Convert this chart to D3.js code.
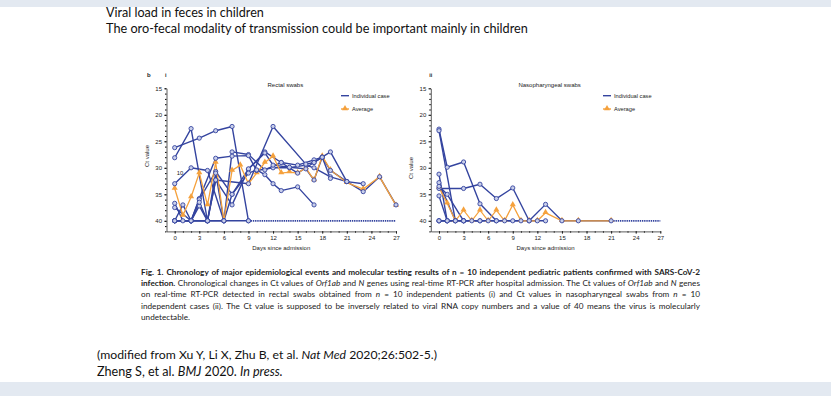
<!DOCTYPE html>
<html lang="en">
<head>
<meta charset="UTF-8" />
<title>Viral load in feces in children</title>
<style>
  body { margin: 0; background: #fff; }
  svg { display: block; }
</style>
</head>
<body>
<script src="https://d3js.org/d3.v7.min.js"></script>
<script>
// rectal swabs: each case is [day, Ct value]
const rectalCase1 = [[0, 26.2], [3, 24.4], [5, 23], [7, 22.2], [9, 40]];
const rectalCase2 = [[0, 28.1], [2, 22.6], [4, 40], [5, 32.3], [7, 37], [9, 30.3], [11, 27], [13, 29], [15, 29.5], [17, 28.5], [18, 28], [19, 27], [21, 32.6], [23, 34.5], [25, 31.7], [27, 37]];
const rectalCase3 = [[0, 33], [2, 30], [4, 30.5], [6, 40], [7, 27], [9, 27.5], [11, 30.4], [13, 29], [15, 31], [17, 29], [18, 28]];
const rectalCase4 = [[0, 36.7], [1, 40], [2, 40], [3, 35.8], [5, 28.2], [7, 27.8], [9, 27.7], [10, 30.5], [12, 30], [14, 30], [16, 29.5], [17, 30], [19, 31.7], [21, 32.6], [23, 33]];
const rectalCase5 = [[0, 40], [2, 40], [3, 36], [5, 30.7], [7, 35], [9, 30.2], [11, 27.2], [12, 29.5], [14, 29.9], [16, 30.2], [17, 32.3], [18, 28], [19, 32]];
const rectalCase6 = [[0, 37.5], [2, 40], [4, 40], [5, 32.3], [9, 33], [12, 22.2], [16, 29.3], [17, 29], [18, 28], [19, 30.5], [21, 32.6]];
const rectalCase7 = [[0, 40], [2, 40], [3, 37.2], [4, 40], [5, 31], [6, 40]];
const rectalCase8 = [[0, 40], [2, 40], [4, 40], [6, 40], [7, 35], [9, 31], [10, 30.4], [11, 31.3], [12, 33], [13, 34.3], [15, 33.6], [17, 37]];
const rectalCase9 = [[0, 40], [1, 37], [2, 40], [3, 36.5], [4, 40]];
const rectalCase10 = [[0, 40], [2, 40], [4, 40], [6, 40], [9, 40]];
const rectalAverage = [[0, 33.9], [1, 39], [2, 35.5], [3, 31], [4, 37], [5, 29], [6, 40], [7, 30.5], [8, 29.5], [9, 33], [10, 31], [11, 29], [12, 27.8], [13, 31], [14, 30.8], [15, 31], [16, 30], [17, 32.3], [18, 27.8], [19, 30.4], [21, 32.8], [23, 34], [25, 31.7], [27, 37.1]];
const rectalNegative = [[9, 40], [27, 40]];

// nasopharyngeal swabs
const nasalCase1 = [[0, 22.7], [1, 29.9], [3, 28.9], [5, 36.8], [7, 40]];
const nasalCase2 = [[0, 23], [2, 40]];
const nasalCase3 = [[0, 33.9], [3, 33.9], [5, 33.1], [7, 35.8], [9, 33.8], [11, 40], [13, 36.9], [15, 40], [17, 40], [21, 40]];
const nasalCase4 = [[0, 31.2], [1, 40]];
const nasalCase5 = [[0, 32.8], [2, 40], [3, 40]];
const nasalCase6 = [[0, 35.3], [1, 40]];
const nasalCase7 = [[0, 33.5], [1, 35], [3, 40], [4, 40], [5, 40]];
const nasalCase8 = [[0, 40], [1, 40], [3, 40], [5, 40], [7, 40], [9, 40], [10, 40]];
const nasalCase9 = [[0, 40], [3, 40], [6, 40], [8, 40], [11, 40], [12, 40], [13, 40]];
const nasalCase10 = [[0, 40], [1, 40], [2, 40]];
const nasalAverage = [[0, 33.7], [1, 36.7], [2, 40], [3, 38], [4, 40], [5, 38], [6, 40], [7, 38], [8, 40], [9, 37], [10, 40], [11, 40], [12, 40], [13, 38.5], [15, 40], [17, 40], [21, 40]];
const nasalNegative = [[21, 40], [27, 40]];

const rectalCases = [rectalCase1, rectalCase2, rectalCase3, rectalCase4, rectalCase5, rectalCase6, rectalCase7, rectalCase8, rectalCase9, rectalCase10];
const nasalCases = [nasalCase1, nasalCase2, nasalCase3, nasalCase4, nasalCase5, nasalCase6, nasalCase7, nasalCase8, nasalCase9, nasalCase10];

const yTicks = [15, 20, 25, 30, 35, 40];
const xTicks = [0, 3, 6, 9, 12, 15, 18, 21, 24, 27];

const blue = "#34449f";
const orange = "#f5a13c";
const chartFont = "'Liberation Sans', Arial, sans-serif";
const slideFont = "Lato, 'Open Sans', sans-serif";

const svg = d3.select("body").append("svg")
  .attr("width", 831).attr("height", 396);

// slide bands
svg.append("rect").attr("x", 0).attr("y", 0).attr("width", 831).attr("height", 7).attr("fill", "#e3e9f1");
svg.append("rect").attr("x", 0).attr("y", 382).attr("width", 831).attr("height", 14).attr("fill", "#e3e9f1");

// size a slide text so that it spans a given width
function fitText(sel, size, width) {
  sel.attr("font-size", size);
  const w = sel.node().getComputedTextLength();
  sel.attr("font-size", size * width / w);
}

fitText(svg.append("text").attr("x", 106).attr("y", 17)
  .attr("font-family", slideFont).attr("fill", "#111")
  .text("Viral load in feces in children"), 13.5, 158);
fitText(svg.append("text").attr("x", 106).attr("y", 33)
  .attr("font-family", slideFont).attr("fill", "#111")
  .text("The oro-fecal modality of transmission could be important mainly in children"), 13.5, 422);

function panel(opts) {
  const x = d3.scaleLinear().domain([-1, 27]).range([opts.left, opts.left + 229.5]);
  const y = d3.scaleLinear().domain([15, 42]).range([88.3, 231.4]);
  const g = svg.append("g").attr("font-family", chartFont);

  // axes
  const yAxis = g.append("g").attr("transform", `translate(${opts.left},0)`)
    .call(d3.axisLeft(y).tickValues(yTicks).tickSize(2.5).tickSizeOuter(0).tickPadding(2));
  g.append("g").attr("transform", `translate(${opts.left},0)`)
    .call(d3.axisLeft(y).tickValues(d3.range(15, 43)).tickSize(1.5).tickSizeOuter(0).tickFormat(""))
    .call(a => a.select(".domain").remove());
  const xAxis = g.append("g").attr("transform", "translate(0,231.4)")
    .call(d3.axisBottom(x).tickValues(xTicks).tickSize(2.5).tickSizeOuter(0).tickPadding(2));
  g.append("g").attr("transform", "translate(0,231.4)")
    .call(d3.axisBottom(x).tickValues(d3.range(0, 28)).tickSize(1.2).tickSizeOuter(0).tickFormat(""))
    .call(a => a.select(".domain").remove());
  [yAxis, xAxis].forEach(a => {
    a.selectAll("text").attr("font-size", 6).attr("fill", "#222").attr("font-family", chartFont);
    a.selectAll("path,line").attr("stroke", "#333").attr("stroke-width", 0.8);
  });

  g.append("text").attr("transform", `translate(${opts.yLabelX},${opts.yLabelY}) rotate(-90)`)
    .attr("text-anchor", "middle").attr("font-size", 6).attr("fill", "#222").text("Ct value");
  g.append("text").attr("x", x(13)).attr("y", 250)
    .attr("text-anchor", "middle").attr("font-size", 6).attr("fill", "#222").text("Days since admission");
  g.append("text").attr("x", x(13.5)).attr("y", 87)
    .attr("text-anchor", "middle").attr("font-size", 6).attr("fill", "#222").text(opts.title);
  g.append("text").attr("x", opts.left - 1.5).attr("y", 77)
    .attr("font-size", 5.5).attr("font-weight", "bold").attr("fill", "#222").text(opts.tag);

  const line = d3.line().x(d => x(d[0])).y(d => y(d[1]));

  // negative results drawn as a dotted run at 40
  g.append("path").datum(opts.negative).attr("d", line)
    .attr("fill", "none").attr("stroke", blue).attr("stroke-width", 1.8)
    .attr("stroke-dasharray", "1.4,0.8");

  g.append("g").selectAll("path").data(opts.cases).join("path")
    .attr("d", line).attr("fill", "none").attr("stroke", blue)
    .attr("stroke-width", 1.4).attr("stroke-linejoin", "round");

  g.append("path").datum(opts.average).attr("d", line)
    .attr("fill", "none").attr("stroke", orange).attr("stroke-width", 1.3);
  g.append("g").selectAll("path").data(opts.average).join("path")
    .attr("transform", d => `translate(${x(d[0])},${y(d[1]) - 0.5})`)
    .attr("d", d3.symbol(d3.symbolTriangle, 16)).attr("fill", orange);

  g.append("g").selectAll("g").data(opts.cases).join("g")
    .selectAll("circle").data(d => d).join("circle")
    .attr("cx", d => x(d[0])).attr("cy", d => y(d[1])).attr("r", 2.1)
    .attr("fill", "#c9cfea").attr("stroke", blue).attr("stroke-width", 0.9);

  // legend
  const lx = opts.legendX;
  g.append("line").attr("x1", lx).attr("x2", lx + 8).attr("y1", 95.7).attr("y2", 95.7)
    .attr("stroke", blue).attr("stroke-width", 1.4);
  g.append("text").attr("x", lx + 11).attr("y", 97.7).attr("font-size", 5.7).attr("fill", "#222").text("Individual case");
  g.append("line").attr("x1", lx).attr("x2", lx + 8).attr("y1", 109).attr("y2", 109)
    .attr("stroke", orange).attr("stroke-width", 1.4);
  g.append("path").attr("transform", `translate(${lx + 4},108.5)`)
    .attr("d", d3.symbol(d3.symbolTriangle, 16)).attr("fill", orange);
  g.append("text").attr("x", lx + 11).attr("y", 111).attr("font-size", 5.7).attr("fill", "#222").text("Average");

  return { x, y, g };
}

const left = panel({
  left: 166.5, title: "Rectal swabs", tag: "i", yLabelX: 148.5, yLabelY: 156,
  cases: rectalCases, average: rectalAverage, negative: rectalNegative, legendX: 341
});
svg.append("text").attr("x", 147).attr("y", 77).attr("font-family", chartFont)
  .attr("font-size", 6).attr("font-weight", "bold").attr("fill", "#222").text("b");
left.g.append("text").attr("x", left.x(0.65)).attr("y", left.y(31) + 2)
  .attr("text-anchor", "middle").attr("font-size", 5.8).attr("fill", "#222").text("10");

panel({
  left: 430.8, title: "Nasopharyngeal swabs", tag: "ii", yLabelX: 412.5, yLabelY: 168,
  cases: nasalCases, average: nasalAverage, negative: nasalNegative, legendX: 603
});

// figure caption, justified by word spacing
const capLines = [
  [{ t: "Fig. 1. Chronology of major epidemiological events and molecular testing results of n = 10 independent pediatric patients confirmed with SARS-CoV-2", b: true }],
  [{ t: "infection.", b: true }, { t: " Chronological changes in Ct values of " }, { t: "Orf1ab", i: true }, { t: " and " }, { t: "N", i: true },
   { t: " genes using real-time RT-PCR after hospital admission. The Ct values of " }, { t: "Orf1ab", i: true }, { t: " and " }, { t: "N", i: true }, { t: " genes" }],
  [{ t: "on real-time RT-PCR detected in rectal swabs obtained from " }, { t: "n", i: true }, { t: " = 10 independent patients (i) and Ct values in nasopharyngeal swabs from " }, { t: "n", i: true }, { t: " = 10" }],
  [{ t: "independent cases (ii). The Ct value is supposed to be inversely related to viral RNA copy numbers and a value of 40 means the virus is molecularly" }],
  [{ t: "undetectable." }]
];
const capSize = 8.2;
capLines.forEach((parts, i) => {
  const txt = svg.append("text").attr("x", 141).attr("y", 275 + i * 11.2)
    .attr("font-family", slideFont).attr("font-size", capSize).attr("fill", "#222");
  parts.forEach(p => {
    txt.append("tspan").text(p.t)
      .attr("font-weight", p.b ? "bold" : null)
      .attr("font-style", p.i ? "italic" : null);
  });
  if (i < 4) {
    let w = txt.node().getComputedTextLength();
    if (w > 559) {
      txt.attr("font-size", capSize * 559 / w);
      w = txt.node().getComputedTextLength();
    }
    const spaces = parts.map(p => p.t).join("").split(" ").length - 1;
    txt.attr("word-spacing", Math.max(0, (559 - w) / spaces));
  }
});

// references
const ref1 = svg.append("text").attr("x", 97).attr("y", 359)
  .attr("font-family", slideFont).attr("fill", "#111");
ref1.append("tspan").text("(modified from Xu Y, Li X, Zhu B, et al. ");
ref1.append("tspan").attr("font-style", "italic").text("Nat Med");
ref1.append("tspan").text(" 2020;26:502-5.)");
fitText(ref1, 12.5, 340);
const ref2 = svg.append("text").attr("x", 97).attr("y", 376)
  .attr("font-family", slideFont).attr("fill", "#111");
ref2.append("tspan").text("Zheng S, et al. ");
ref2.append("tspan").attr("font-style", "italic").text("BMJ");
ref2.append("tspan").text(" 2020. ");
ref2.append("tspan").attr("font-style", "italic").text("In press.");
fitText(ref2, 12.5, 186);
</script>
</body>
</html>
